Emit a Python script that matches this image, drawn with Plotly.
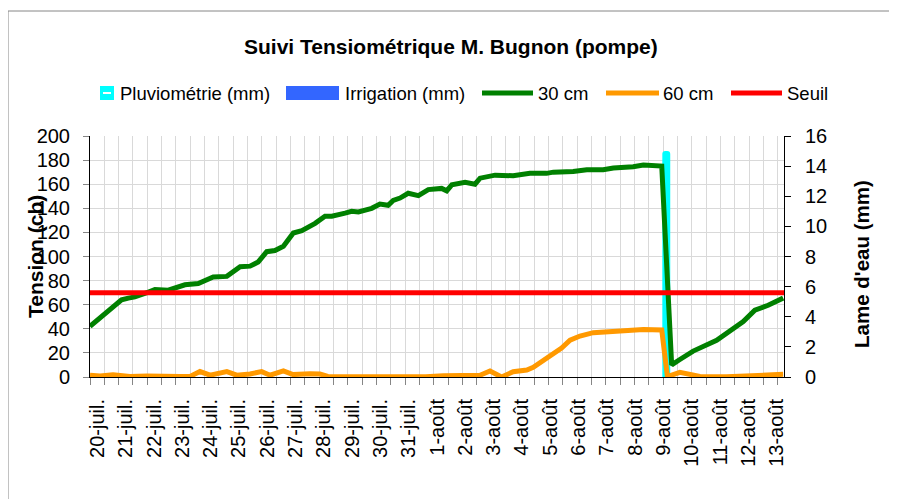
import plotly.graph_objects as go

# ---------------- data ----------------
# x in days, 0 = 20-juil.
tick_days = list(range(25))
tick_labels = ["20-juil.", "21-juil.", "22-juil.", "23-juil.", "24-juil.", "25-juil.",
               "26-juil.", "27-juil.", "28-juil.", "29-juil.", "30-juil.", "31-juil.",
               "1-août", "2-août", "3-août", "4-août", "5-août", "6-août", "7-août",
               "8-août", "9-août", "10-août", "11-août", "12-août", "13-août"]

t30 = [-0.265, 0.15, 0.5, 0.85, 1.09, 1.32, 1.8, 2.03, 2.5, 3.09, 3.56, 4.09, 4.57, 5.04,
       5.39, 5.68, 5.98, 6.27, 6.57, 6.92, 7.22, 7.69, 8.04, 8.28, 8.75, 8.98, 9.22, 9.69,
       9.98, 10.27, 10.45, 10.69, 10.98, 11.34, 11.69, 12.16, 12.34, 12.52, 12.99, 13.34,
       13.52, 14.05, 14.69, 15.28, 15.87, 16.11, 16.81, 17.29, 17.87, 18.23, 18.93, 19.29,
       19.94, 20.29, 20.58, 21.05, 21.88, 22.47, 22.82, 23.23, 23.7, 24.23]
v30 = [42, 50, 57, 64, 65.5, 66.5, 70.5, 72.5, 72, 76.5, 77.5, 83, 83.5, 91.5,
       92, 95.5, 104, 105, 108.5, 119.5, 121.5, 127.5, 133.5, 133.5, 136, 137.5, 137, 140,
       143.5, 142.5, 146.5, 148.5, 152.5, 150.5, 155.5, 156.5, 154.5, 159.5, 161.5, 160,
       165, 167.5, 167, 169, 169, 170, 170.5, 172, 172, 173.5, 174.5, 176,
       175, 10, 14.5, 21.5, 30.5, 40.5, 46, 55.5, 59.5, 65.5]

t60 = [-0.265, 0.09, 0.55, 1.15, 1.75, 2.31, 2.92, 3.27, 3.62, 3.98, 4.57, 4.92, 5.39, 5.8,
       6.1, 6.57, 6.91, 7.51, 7.86, 8.14, 9.0, 10.0, 11.0, 11.6, 12.22, 12.81, 13.52, 13.87,
       14.28, 14.69, 15.17, 15.4, 15.75, 16.11, 16.4, 16.7, 17.05, 17.52, 17.87, 18.23,
       18.93, 19.29, 19.94, 20.14, 20.58, 21.29, 22.23, 23.06, 24.23]
v60 = [1.5, 0.8, 1.8, 0.5, 0.8, 0.3, 0.5, 0.5, 4.5, 1.5, 4.5, 1.5, 2.5, 4.5,
       1.5, 5, 2, 2.8, 2.5, 0.5, 0.3, 0.5, 0.6, 0.3, 1.1, 1, 1.5, 5,
       0, 4.4, 5.8, 8, 14, 19, 24, 30.5, 34, 36.8, 37.5, 38.2,
       39, 39.5, 39, 0.3, 3.9, 0.5, 0.2, 0.8, 2.2]

pluvio_days = [20.1]
pluvio_mm = [15]
irrig_days = [20.1]
irrig_mm = [0]
seuil_days = [-0.265, 24.26]
seuil_cb = [70, 70]

# ---------------- layout helpers ----------------
OFF = 8                      # page body margin
W, H = 897 - OFF, 499 - OFF
# plot area in page pixels
L, R, T, B = 90, 784, 136, 377
def px(xp):
    return (xp - L) / (R - L)
def py(yp):
    return (B - yp) / (B - T)

FONT = "Liberation Sans, Arial, sans-serif"
GREEN = "#008000"
ORANGE = "#FF9900"
RED = "#FF0000"
CYAN = "#00FFFF"
BLUE = "#3366FF"

fig = go.Figure()
fig.add_trace(go.Bar(x=pluvio_days, y=pluvio_mm, yaxis="y", width=0.28,
                     marker=dict(color=CYAN, line=dict(width=0), cornerradius=4),
                     name="Pluviométrie (mm)", showlegend=False))
fig.add_trace(go.Bar(x=irrig_days, y=irrig_mm, yaxis="y", width=0.28,
                     marker=dict(color=BLUE, line=dict(width=0)),
                     name="Irrigation (mm)", showlegend=False))
fig.add_trace(go.Scatter(x=t30, y=v30, yaxis="y2", mode="lines", name="30 cm",
                         line=dict(color=GREEN, width=5), showlegend=False))
fig.add_trace(go.Scatter(x=t60, y=v60, yaxis="y2", mode="lines", name="60 cm",
                         line=dict(color=ORANGE, width=5), showlegend=False))
fig.add_trace(go.Scatter(x=seuil_days, y=seuil_cb, yaxis="y2", mode="lines", name="Seuil",
                         line=dict(color=RED, width=5), showlegend=False))

shapes = []
annotations = []
# outer chart border
shapes.append(dict(type="rect", xref="paper", yref="paper", x0=px(8), x1=px(915),
                   y0=py(525), y1=py(11), line=dict(color="#868686", width=1)))

# manual legend
ly = 93
shapes.append(dict(type="rect", xref="paper", yref="paper", x0=px(100), x1=px(114),
                   y0=py(100), y1=py(86), fillcolor=CYAN, line=dict(width=0)))
shapes.append(dict(type="line", xref="paper", yref="paper", x0=px(103), x1=px(111),
                   y0=py(93), y1=py(93), line=dict(color="white", width=2)))
shapes.append(dict(type="rect", xref="paper", yref="paper", x0=px(286), x1=px(339),
                   y0=py(100), y1=py(86), fillcolor=BLUE, line=dict(width=0)))
for x0, x1, c in [(482, 533, GREEN), (606, 659, ORANGE), (731, 782, RED)]:
    shapes.append(dict(type="line", xref="paper", yref="paper", x0=px(x0), x1=px(x1),
                       y0=py(ly), y1=py(ly), line=dict(color=c, width=5)))
for xt, txt in [(118, "Pluviométrie (mm)"), (343, "Irrigation (mm)"), (536, "30 cm"),
                (661, "60 cm"), (785, "Seuil")]:
    annotations.append(dict(xref="paper", yref="paper", x=px(xt), y=py(ly), text=txt,
                            showarrow=False, xanchor="left", yanchor="middle",
                            font=dict(family=FONT, size=18.5, color="black")))

# title
annotations.append(dict(xref="paper", yref="paper", x=px(451), y=py(46),
                        text="<b>Suivi Tensiométrique M. Bugnon (pompe)</b>",
                        showarrow=False, xanchor="center", yanchor="middle",
                        font=dict(family=FONT, size=21, color="black")))
# axis titles
annotations.append(dict(xref="paper", yref="paper", x=px(35), y=py(257),
                        text="<b>Tension (cb)</b>", textangle=-90, showarrow=False,
                        xanchor="center", yanchor="middle",
                        font=dict(family=FONT, size=21, color="black")))
annotations.append(dict(xref="paper", yref="paper", x=px(861), y=py(264),
                        text="<b>Lame d'eau (mm)</b>", textangle=-90, showarrow=False,
                        xanchor="center", yanchor="middle",
                        font=dict(family=FONT, size=20.5, color="black")))

fig.update_layout(
    width=W, height=H,
    margin=dict(l=L - OFF, r=W - (R - OFF), t=T - OFF, b=H - (B - OFF), pad=0),
    paper_bgcolor="white", plot_bgcolor="white",
    showlegend=False, barmode="overlay",
    font=dict(family=FONT, size=19, color="black"),
    xaxis=dict(range=[-0.265, 24.26], tickmode="array", tickvals=tick_days,
               ticktext=tick_labels, tickangle=-90, ticks="outside", ticklen=13,
               tickcolor="rgba(0,0,0,0)", showgrid=False, zeroline=False,
               showline=True, linecolor="black", linewidth=1,
               tickfont=dict(family=FONT, size=20, color="black"),
               minor=dict(tickmode="linear", tick0=-0.265, dtick=0.5064, ticks="outside",
                          ticklen=7, tickcolor="#868686", tickwidth=1,
                          showgrid=True, gridcolor="#d9d9d9", gridwidth=1)),
    yaxis=dict(side="right", range=[0, 16], tickmode="linear", tick0=0, dtick=2,
               ticks="outside", ticklen=6, tickcolor="black", showline=True,
               linecolor="black", linewidth=1, showgrid=False, zeroline=False,
               ticklabelstandoff=10,
               tickfont=dict(family=FONT, size=20, color="black")),
    yaxis2=dict(side="left", overlaying="y", range=[0, 200], tickmode="linear", tick0=0,
                dtick=20, ticks="outside", ticklen=6, tickcolor="#868686", showline=True,
                linecolor="black", linewidth=1, showgrid=True, gridcolor="#d9d9d9",
                gridwidth=1, zeroline=False, ticklabelstandoff=9,
                tickfont=dict(family=FONT, size=20, color="black")),
    shapes=shapes, annotations=annotations,
)

fig.write_html("out.html")
